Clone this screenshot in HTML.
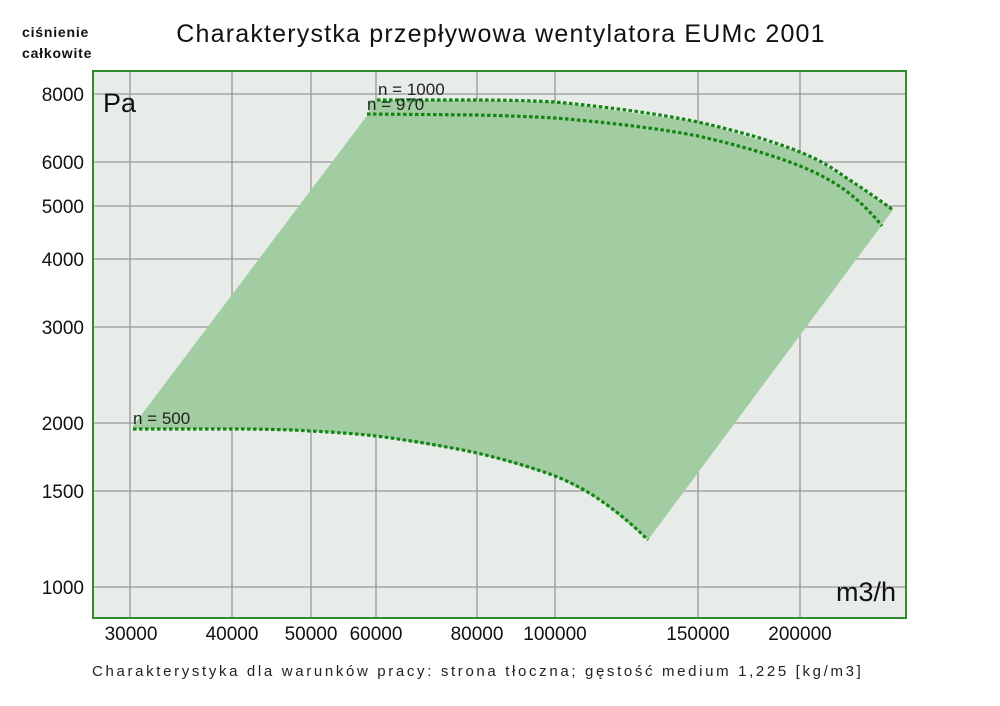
<!DOCTYPE html>
<html><head><meta charset="utf-8"><style>
body{margin:0;background:#fff}
svg{display:block;font-family:"Liberation Sans",sans-serif}
</style></head><body>
<svg width="1000" height="706" viewBox="0 0 1000 706">
<rect width="1000" height="706" fill="#fff"/>
<text x="501" y="42" font-size="25" text-anchor="middle" fill="#111" letter-spacing="1.2">Charakterystka przepływowa wentylatora EUMc 2001</text>
<text x="22" y="37" font-size="14" font-weight="bold" fill="#111" letter-spacing="0.8">ciśnienie</text>
<text x="22" y="58" font-size="14" font-weight="bold" fill="#111" letter-spacing="0.8">całkowite</text>
<rect x="93" y="71" width="813" height="547" fill="#e7ece8"/>
<g stroke="#999" stroke-width="1.3">
<line x1="130" y1="71" x2="130" y2="618"/><line x1="232" y1="71" x2="232" y2="618"/>
<line x1="311" y1="71" x2="311" y2="618"/><line x1="376" y1="71" x2="376" y2="618"/>
<line x1="477" y1="71" x2="477" y2="618"/><line x1="555" y1="71" x2="555" y2="618"/>
<line x1="698" y1="71" x2="698" y2="618"/><line x1="800" y1="71" x2="800" y2="618"/>
<line x1="93" y1="94" x2="906" y2="94"/><line x1="93" y1="162" x2="906" y2="162"/>
<line x1="93" y1="206" x2="906" y2="206"/><line x1="93" y1="259" x2="906" y2="259"/>
<line x1="93" y1="327" x2="906" y2="327"/><line x1="93" y1="423" x2="906" y2="423"/>
<line x1="93" y1="491" x2="906" y2="491"/><line x1="93" y1="587" x2="906" y2="587"/>
</g>
<path d="M133,426 L369,113 L369,100 L477,100 L555,102 L698,122 L800,152 L845,177 L893,210 L648,540 L600,500 L555,476 L477,453 L376,436 L311,431 L232,429 L133,429 Z" fill="#a2cda2"/>
<g fill="none" stroke="#138513" stroke-width="3.2" stroke-dasharray="3.5,2.5">
<path d="M377,100 L477,100 Q520,100 555,102 Q640,110 698,122 Q760,136 800,152 Q825,162 845,177 Q870,193 893,210"/>
<path d="M367,114 L477,115 Q520,116 555,118 Q640,125 698,136 Q760,150 800,166 Q825,176 845,190 Q866,206 882,226"/>
<path d="M133,429 L232,429 Q280,429 311,431 Q350,433 376,436 Q430,443 477,453 Q520,463 555,476 Q580,486 600,500 Q625,517 648,540"/>
</g>
<rect x="93" y="71" width="813" height="547" fill="none" stroke="#2e8b2e" stroke-width="2"/>
<g font-size="17" fill="#222">
<text x="378" y="95">n = 1000</text>
<text x="367" y="110">n = 970</text>
<text x="133" y="424">n = 500</text>
</g>
<text x="103" y="112" font-size="27" fill="#111">Pa</text>
<text x="896" y="601" font-size="27" fill="#111" text-anchor="end">m3/h</text>
<g font-size="19" fill="#111" text-anchor="end">
<text x="84" y="101">8000</text><text x="84" y="169">6000</text><text x="84" y="213">5000</text>
<text x="84" y="266">4000</text><text x="84" y="334">3000</text><text x="84" y="430">2000</text>
<text x="84" y="498">1500</text><text x="84" y="594">1000</text>
</g>
<g font-size="19" fill="#111" text-anchor="middle">
<text x="131" y="640">30000</text><text x="232" y="640">40000</text><text x="311" y="640">50000</text>
<text x="376" y="640">60000</text><text x="477" y="640">80000</text><text x="555" y="640">100000</text>
<text x="698" y="640">150000</text><text x="800" y="640">200000</text>
</g>
<text x="92" y="676" font-size="15" fill="#222" letter-spacing="2.65">Charakterystyka dla warunków pracy: strona tłoczna; gęstość medium 1,225 [kg/m3]</text>
</svg>
</body></html>
